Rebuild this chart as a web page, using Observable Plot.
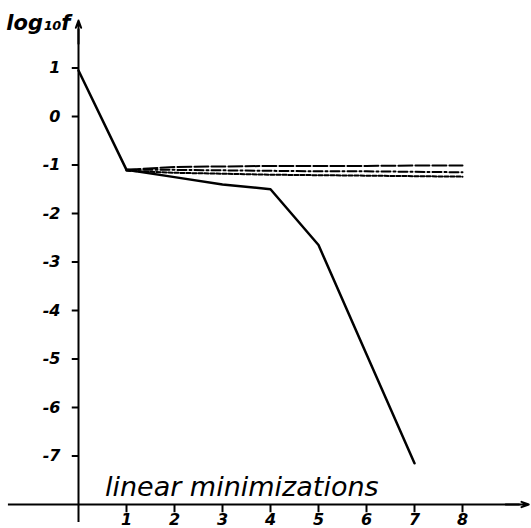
<!DOCTYPE html>
<html><head><meta charset="utf-8">
<script src="https://cdn.jsdelivr.net/npm/d3@7"></script>
<script src="https://cdn.jsdelivr.net/npm/@observablehq/plot@0.6"></script>
<style>body{margin:0;background:#fff}</style>
</head><body><div id="chart"></div>
<script>
// Data
const xTicks = [1, 2, 3, 4, 5, 6, 7, 8];
const yTicks = [1, 0, -1, -2, -3, -4, -5, -6, -7];
const solidX = [0, 1, 2, 3, 4, 5, 6, 7];
const solidY = [0.95, -1.1, -1.25, -1.4, -1.5, -2.65, -4.9, -7.15];
const flatX = [1, 2, 3, 4, 5, 6, 7, 8];
const topY = [-1.1, -1.04, -1.03, -1.02, -1.02, -1.02, -1.01, -1.01];
const midY = [-1.1, -1.1, -1.11, -1.12, -1.13, -1.13, -1.14, -1.15];
const botY = [-1.12, -1.16, -1.18, -1.2, -1.21, -1.22, -1.23, -1.24];
const xLabel = "linear minimizations";
const yLabel = "log₁₀f";

const solid = solidX.map((x, i) => ({x, y: solidY[i]}));
const mk = ys => flatX.map((x, i) => ({x, y: ys[i]}));
const axisY0 = -8;
const font = "'DejaVu Sans', sans-serif";

let el;
try {
const plot = Plot.plot({
  width: 531, height: 528,
  margin: 0,
  x: {type: "linear", domain: [-1.625, 9.4375], axis: null},
  y: {type: "linear", domain: [-8.495, 2.392], axis: null},
  style: {background: "#fff"},
  marks: [
    // axes
    Plot.ruleY([axisY0], {x1: -1.46, x2: 9.2, stroke: "#000", strokeWidth: 2}),
    Plot.ruleX([0], {y1: -8.37, y2: 1.8, stroke: "#000", strokeWidth: 2}),
    Plot.arrow([{x1: 8.9, x2: 9.38, y: axisY0}], {x1: "x1", x2: "x2", y1: "y", y2: "y", stroke: "#000", strokeWidth: 2, headLength: 12, headAngle: 40}),
    Plot.arrow([{x: 0, y1: 1.5, y2: 1.98}], {x1: "x", x2: "x", y1: "y1", y2: "y2", stroke: "#000", strokeWidth: 2, headLength: 12, headAngle: 40}),
    // ticks
    Plot.ruleX(xTicks, {x: d => d, y1: axisY0, y2: axisY0 - 0.17, stroke: "#000", strokeWidth: 2}),
    Plot.ruleY(yTicks, {y: d => d, x1: 0, x2: -0.13, stroke: "#000", strokeWidth: 2}),
    Plot.text(xTicks, {x: d => d, y: axisY0, text: d => String(d), dy: 15, fontSize: 16, fontWeight: "bold", fontStyle: "italic", fontFamily: font, fill: "#000"}),
    Plot.text(yTicks, {y: d => d, x: 0, text: d => String(d), dx: -18, textAnchor: "end", fontSize: 16, fontWeight: "bold", fontStyle: "italic", fontFamily: font, fill: "#000"}),
    // labels
    Plot.text([xLabel], {x: 0.55, y: axisY0, text: d => d, dy: -17, textAnchor: "start", fontSize: 27, fontStyle: "italic", fontFamily: font, fill: "#000", letterSpacing: "1.2px"}),
    Plot.text([yLabel], {x: 0, y: 2.392, text: d => d, dx: -8, dy: 23, textAnchor: "end", fontSize: 21, fontWeight: "bold", fontStyle: "italic", fontFamily: font, fill: "#000"}),
    // data
    Plot.line(mk(topY), {x: "x", y: "y", stroke: "#000", strokeWidth: 2, strokeDasharray: "14,3"}),
    Plot.line(mk(midY), {x: "x", y: "y", stroke: "#000", strokeWidth: 2, strokeDasharray: "9,3,2,3"}),
    Plot.line(mk(botY), {x: "x", y: "y", stroke: "#000", strokeWidth: 2, strokeDasharray: "4,2"}),
    Plot.line(solid, {x: "x", y: "y", stroke: "#000", strokeWidth: 2.5, strokeLinejoin: "round"})
  ]
});
el = plot;
} catch (e) {
  el = document.createElement("pre");
  el.textContent = String(e && e.stack || e);
}
document.getElementById("chart").append(el);
</script>
</body></html>
